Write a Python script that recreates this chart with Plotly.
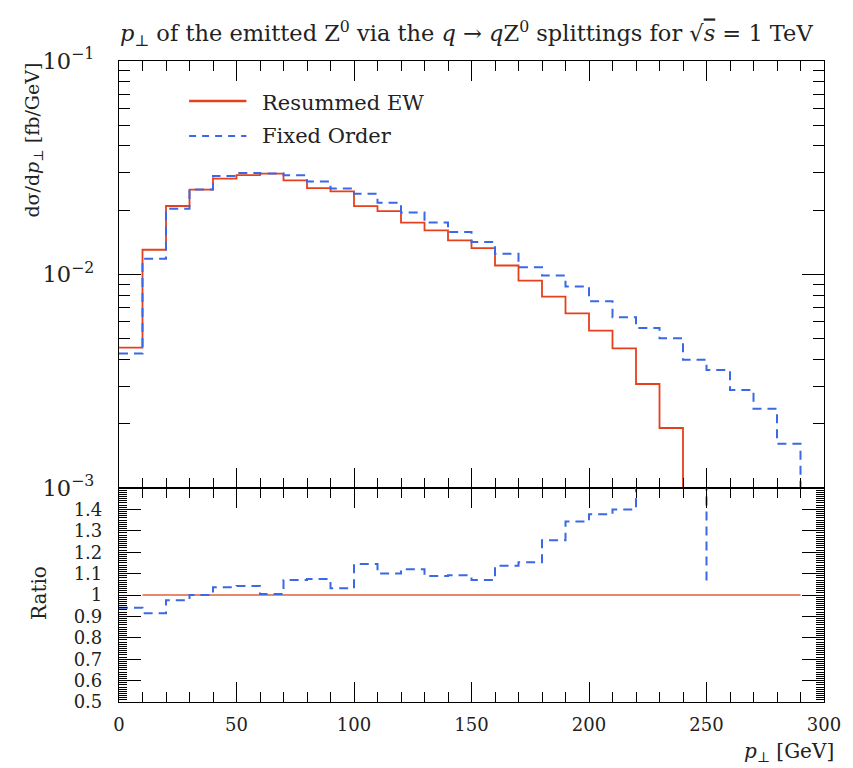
import plotly.graph_objects as go

# ---------------- data ----------------
bin_edges = list(range(0, 310, 10))  # 0..300 GeV, 10 GeV bins

# Resummed EW  dσ/dp⊥ [fb/GeV] per bin (0 = empty bin)
resummed_ew = [0.00454, 0.01306, 0.02093, 0.0250, 0.0281, 0.0292, 0.0297, 0.0276,
               0.0254, 0.0245, 0.0209, 0.0198, 0.0175, 0.0161, 0.01445, 0.0133,
               0.01102, 0.00937, 0.00788, 0.00657, 0.00546, 0.00451, 0.00307, 0.00191,
               0, 0, 0, 0, 0, 0]

# Fixed Order  dσ/dp⊥ [fb/GeV] per bin
fixed_order = [0.00426, 0.01185, 0.0203, 0.0250, 0.0289, 0.0299, 0.0297, 0.0292,
               0.0273, 0.0253, 0.0239, 0.0217, 0.0195, 0.0175, 0.0158, 0.01419,
               0.0125, 0.0108, 0.00989, 0.00879, 0.0075, 0.0063, 0.00562, 0.00503,
               0.00399, 0.00357, 0.00288, 0.00235, 0.00161, 0]

# Ratio panel: Fixed Order / Resummed EW per bin (bins 0..240)
ratio_fo = [0.94, 0.915, 0.975, 1.0, 1.036, 1.042, 1.005, 1.07, 1.075, 1.031,
            1.145, 1.10, 1.12, 1.089, 1.092, 1.07, 1.137, 1.153, 1.256, 1.343,
            1.377, 1.40, 1.83, 2.63]
ratio_spike_x = [250, 250]
ratio_spike_y = [1.6, 1.04]
ratio_ref_x = [10, 290]
ratio_ref_y = [1.0, 1.0]

title_text = ("<i>p</i><sub>⊥</sub> of the emitted Z<sup>0</sup> via the <i>q</i> → <i>q</i>Z<sup>0</sup>"
              " splittings for √<span style='text-decoration:overline'><i>s</i></span> = 1 TeV")
ratio_ticks = [0.5, 0.6, 0.7, 0.8, 0.9, 1.0, 1.1, 1.2, 1.3, 1.4]
ratio_ticktext = ["0.5", "0.6", "0.7", "0.8", "0.9", "1", "1.1", "1.2", "1.3", "1.4"]
x_ticks = [0, 50, 100, 150, 200, 250, 300]

# ---------------- style ----------------
RED = "#E5401E"
BLUE = "#3A68E6"
FONT = "DejaVu Serif"
DASH = "9px,6px"
W, H = 853, 768
L, R, T, B = 119, 20, 61, 66
plot_w = W - L - R
plot_h = H - T - B
split = 214 / plot_h


def px_x(px):
    return (px - L) / plot_w


def px_y(py):
    return (H - B - py) / plot_h


def step(vals, floor=None):
    ys = [(v if v > 0 else floor) for v in vals] if floor is not None else list(vals)
    xs = bin_edges[:len(ys) + 1]
    return xs, ys + [ys[-1]]


fig = go.Figure()

x, y = step(resummed_ew, floor=1e-7)
fig.add_trace(go.Scatter(x=x, y=y, mode="lines", line=dict(color=RED, width=1.8, shape="hv"),
                         xaxis="x", yaxis="y", showlegend=False))
x, y = step(fixed_order, floor=1e-7)
fig.add_trace(go.Scatter(x=x, y=y, mode="lines", line=dict(color=BLUE, width=2, shape="hv", dash=DASH),
                         xaxis="x", yaxis="y", showlegend=False))

fig.add_trace(go.Scatter(x=ratio_ref_x, y=ratio_ref_y, mode="lines", line=dict(color="#E0603E", width=1.5),
                         xaxis="x2", yaxis="y2", showlegend=False))
x, y = step(ratio_fo)
fig.add_trace(go.Scatter(x=x, y=y, mode="lines", line=dict(color=BLUE, width=2, shape="hv", dash=DASH),
                         xaxis="x2", yaxis="y2", showlegend=False))
fig.add_trace(go.Scatter(x=ratio_spike_x, y=ratio_spike_y, mode="lines",
                         line=dict(color=BLUE, width=2, dash=DASH),
                         xaxis="x2", yaxis="y2", showlegend=False))

axis_common = dict(showline=True, linecolor="black", linewidth=1.2, mirror="allticks",
                   ticks="inside", tickcolor="black", tickwidth=1.2, showgrid=False, zeroline=False,
                   tickfont=dict(family=FONT, size=18, color="#222222"))

fig.update_layout(
    width=W, height=H, margin=dict(l=L, r=R, t=T, b=B),
    paper_bgcolor="white", plot_bgcolor="white",
    font=dict(family=FONT, color="#222222"),
    xaxis=dict(domain=[0, 1], anchor="y", range=[0, 300], tickvals=x_ticks, ticklen=20,
               showticklabels=False,
               minor=dict(dtick=10, ticklen=10, ticks="inside", tickcolor="black", tickwidth=1.2, showgrid=False),
               **axis_common),
    yaxis=dict(domain=[split, 1], anchor="x", type="log", range=[-3, -1], dtick=1,
               exponentformat="power", ticklen=22, ticklabelstandoff=20,
               minor=dict(dtick="D1", ticklen=11, ticks="inside", tickcolor="black", tickwidth=1.2, showgrid=False),
               **axis_common),
    xaxis2=dict(domain=[0, 1], anchor="y2", range=[0, 300], tickvals=x_ticks, ticklen=20,
                ticklabelstandoff=6,
                minor=dict(dtick=10, ticklen=10, ticks="inside", tickcolor="black", tickwidth=1.2, showgrid=False),
                matches="x", **axis_common),
    yaxis2=dict(domain=[0, split], anchor="x2", range=[0.5, 1.5], tickvals=ratio_ticks,
                ticktext=ratio_ticktext, ticklen=22, ticklabelstandoff=12,
                minor=dict(dtick=0.01, tick0=0.5, ticklen=8, ticks="inside", tickcolor="black", tickwidth=1, showgrid=False),
                **axis_common),
)

annotations = [
    dict(text=title_text, xref="paper", yref="paper", x=px_x(118), y=px_y(33), xanchor="left", yanchor="middle",
         showarrow=False, font=dict(family=FONT, size=22.5)),
    dict(text="dσ/d<i>p</i><sub>⊥</sub> [fb/GeV]", xref="paper", yref="paper", x=px_x(32), y=1.0,
         xanchor="center", yanchor="top", textangle=-90, showarrow=False, font=dict(family=FONT, size=19)),
    dict(text="Ratio", xref="paper", yref="paper", x=px_x(38), y=px_y(593), xanchor="center", yanchor="middle",
         textangle=-90, showarrow=False, font=dict(family=FONT, size=20)),
    dict(text="<i>p</i><sub>⊥</sub> [GeV]", xref="paper", yref="paper", x=px_x(845), y=px_y(752),
         xanchor="right", yanchor="middle", showarrow=False, font=dict(family=FONT, size=20)),
    dict(text="Resummed EW", xref="paper", yref="paper", x=px_x(262), y=px_y(103), xanchor="left",
         yanchor="middle", showarrow=False, font=dict(family=FONT, size=21)),
    dict(text="Fixed Order", xref="paper", yref="paper", x=px_x(262), y=px_y(136), xanchor="left",
         yanchor="middle", showarrow=False, font=dict(family=FONT, size=21)),
]
shapes = [
    dict(type="line", xref="paper", yref="paper", x0=px_x(190), x1=px_x(248), y0=px_y(101), y1=px_y(101),
         line=dict(color=RED, width=2.5)),
    dict(type="line", xref="paper", yref="paper", x0=px_x(190), x1=px_x(248), y0=px_y(136), y1=px_y(136),
         line=dict(color=BLUE, width=2, dash="7px,6px")),
]
fig.update_layout(annotations=annotations, shapes=shapes)

fig.write_html("out.html")
